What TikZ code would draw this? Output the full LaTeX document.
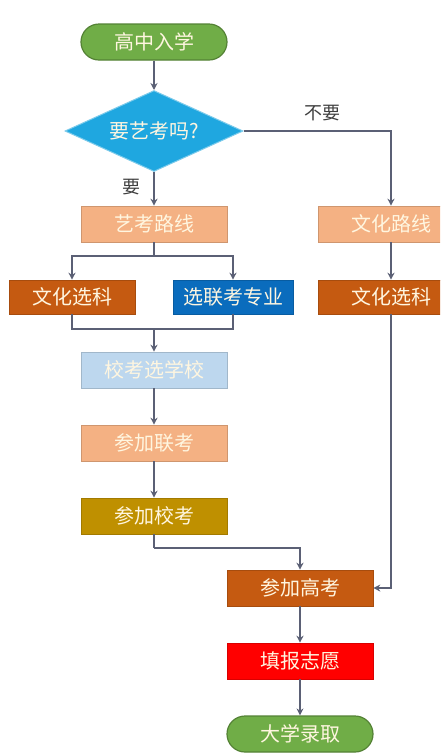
\documentclass[tikz,border=0pt]{standalone}
\usepackage{fontspec}
\setmainfont{Noto Sans CJK SC}
\usetikzlibrary{shapes.geometric,arrows.meta}
\definecolor{cgreen}{HTML}{70AD47}
\definecolor{cgreenD}{HTML}{548235}
\definecolor{cdia}{HTML}{1FA7E0}
\definecolor{cdiaD}{HTML}{7CCBEB}
\definecolor{csalmon}{HTML}{F4B183}
\definecolor{corange}{HTML}{C55A11}
\definecolor{cblue}{HTML}{0A6CBD}
\definecolor{clblue}{HTML}{BDD7EE}
\definecolor{cgold}{HTML}{BF9000}
\definecolor{cred}{HTML}{FF0000}
\definecolor{carrow}{HTML}{5B6075}
\definecolor{ctext}{HTML}{FFF6E0}
\tikzset{
  base/.style={inner sep=0pt, minimum width=146pt, minimum height=36pt, font=\fontsize{20pt}{22pt}\selectfont, text=ctext},
  term/.style={base, rounded corners=18pt, fill=cgreen, draw=cgreenD, line width=1.2pt},
  boxs/.style={base, fill=#1, draw=#1!85!black, line width=0.6pt},
  smallbox/.style={boxs=#1, minimum width=126pt, minimum height=34pt},
  conn/.style={draw=carrow, line width=1.5pt, -{Stealth[length=7pt,width=7pt]}},
  line/.style={draw=carrow, line width=1.5pt},
  lab/.style={font=\fontsize{18pt}{20pt}\selectfont, text=black!75},
}
\begin{document}
\begin{tikzpicture}[x=1pt,y=-1pt]
\fill[white] (0,0) rectangle (440,756);
\useasboundingbox (0,0) rectangle (440,756);
\clip (0,0) rectangle (440,756);
\node[term] (start) at (154,42) {高中入学};
\node[diamond, inner sep=0pt, minimum width=178pt, minimum height=81pt, fill=cdia, draw=cdiaD, line width=1pt,
  label={[font=\fontsize{20pt}{22pt}\selectfont, text=ctext, inner sep=0pt]center:要艺考吗?}] (dia) at (154,131) {};
\node[boxs=csalmon] (art) at (154,224) {艺考路线};
\node[boxs=csalmon] (wh1) at (391,224) {文化路线};
\node[smallbox=corange] (wk1) at (72,297) {文化选科};
\node[smallbox=cblue, minimum width=120pt] (xl) at (233,297) {选联考专业};
\node[boxs=corange, minimum height=34pt] (wk2) at (391,297) {文化选科};
\node[boxs=clblue] (xk) at (154,370) {校考选学校};
\node[boxs=csalmon] (lk) at (154,443) {参加联考};
\node[boxs=cgold] (xkao) at (154,516) {参加校考};
\node[boxs=corange] (gk) at (300,588) {参加高考};
\node[boxs=cred] (tb) at (300,661) {填报志愿};
\node[term] (dx) at (300,734) {大学录取};
\node[lab] (lno) at (322,113) {不要};
\node[lab] (lyes) at (131,187) {要};
\coordinate (split) at (154,256);
\coordinate (merge) at (154,329);
\coordinate (bend) at (154,548);
\draw[conn] (start) -- (dia);
\draw[conn] (dia) -- (art);
\draw[conn] (dia.east) -| (wh1.north);
\draw[line] (art.south) -- (split);
\draw[conn] (split) -| (wk1.north);
\draw[conn] (split) -| (xl.north);
\draw[line] (wk1.south) |- (merge);
\draw[line] (xl.south) |- (merge);
\draw[conn] (merge) -- (xk);
\draw[conn] (wh1) -- (wk2);
\draw[conn] (xk) -- (lk);
\draw[conn] (lk) -- (xkao);
\draw[line] (xkao.south) -- (bend);
\draw[conn] (bend) -| (gk.north);
\draw[conn] (wk2.south) |- (gk.east);
\draw[conn] (gk) -- (tb);
\draw[conn] (tb) -- (dx);
\end{tikzpicture}
\end{document}
